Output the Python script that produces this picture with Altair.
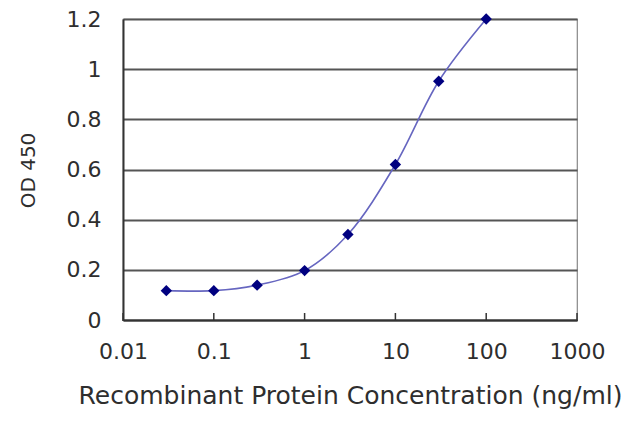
import altair as alt
import pandas as pd

conc = [0.03, 0.1, 0.3, 1, 3, 10, 30, 100]
od450 = [0.117, 0.117, 0.139, 0.197, 0.341, 0.62, 0.952, 1.2]
x_ticks = [0.01, 0.1, 1, 10, 100, 1000]
y_ticks = [0, 0.2, 0.4, 0.6, 0.8, 1.0, 1.2]

df = pd.DataFrame({"conc": conc, "od": od450})
tick_df = pd.DataFrame({"t": x_ticks})

FONT = "DejaVu Sans"
TXT = "#2e2e2e"

x_enc = alt.X(
    "conc:Q",
    scale=alt.Scale(type="log", domain=[0.01, 1000], nice=False),
    axis=alt.Axis(
        values=x_ticks, format="~g", grid=False, labelFlush=False,
        labelOverlap=False, ticks=False,
        title="Recombinant Protein Concentration (ng/ml)",
        labelFont=FONT, labelFontSize=22, labelColor=TXT,
        labelPadding=21,
        domainColor="#333", domainWidth=2,
        titleFont=FONT, titleFontSize=25, titleFontWeight="normal",
        titleColor=TXT, titleX=227, titleY=75, titleBaseline="middle",
    ),
)
y_enc = alt.Y(
    "od:Q",
    scale=alt.Scale(domain=[0, 1.2], nice=False, zero=True),
    axis=alt.Axis(
        values=y_ticks, format="~g", grid=True, gridColor="#555",
        gridWidth=1.8, gridOpacity=1,
        title="OD 450", tickSize=0,
        labelFont=FONT, labelFontSize=22, labelColor=TXT,
        labelPadding=22,
        domainColor="#333", domainWidth=2,
        titleFont=FONT, titleFontSize=20, titleFontWeight="normal",
        titleColor=TXT, titleX=-95, titleY=151, titleBaseline="middle",
        titleAngle=270,
    ),
)

ticks = alt.Chart(tick_df).mark_rule(color="#333", strokeWidth=1.5).encode(
    x=alt.X("t:Q"), y=alt.value(294), y2=alt.value(302)
)

line = alt.Chart(df).mark_line(
    color="#6666c0", strokeWidth=1.6, interpolate="catmull-rom"
).encode(x=x_enc, y=y_enc)

pts = alt.Chart(df).mark_point(
    shape="diamond", filled=True, color="#000080", size=130, opacity=1
).encode(x=alt.X("conc:Q"), y=alt.Y("od:Q"))

chart = (
    alt.layer(line, ticks, pts)
    .properties(
        width=454, height=301,
        autosize=alt.AutoSizeParams(type="none"),
        padding={"left": 115, "top": 11, "right": 55, "bottom": 100},
        background="white",
    )
    .configure_view(stroke="#888", strokeWidth=1.2)
)

chart.save("out.html", embed_options={"renderer": "svg", "actions": False})
